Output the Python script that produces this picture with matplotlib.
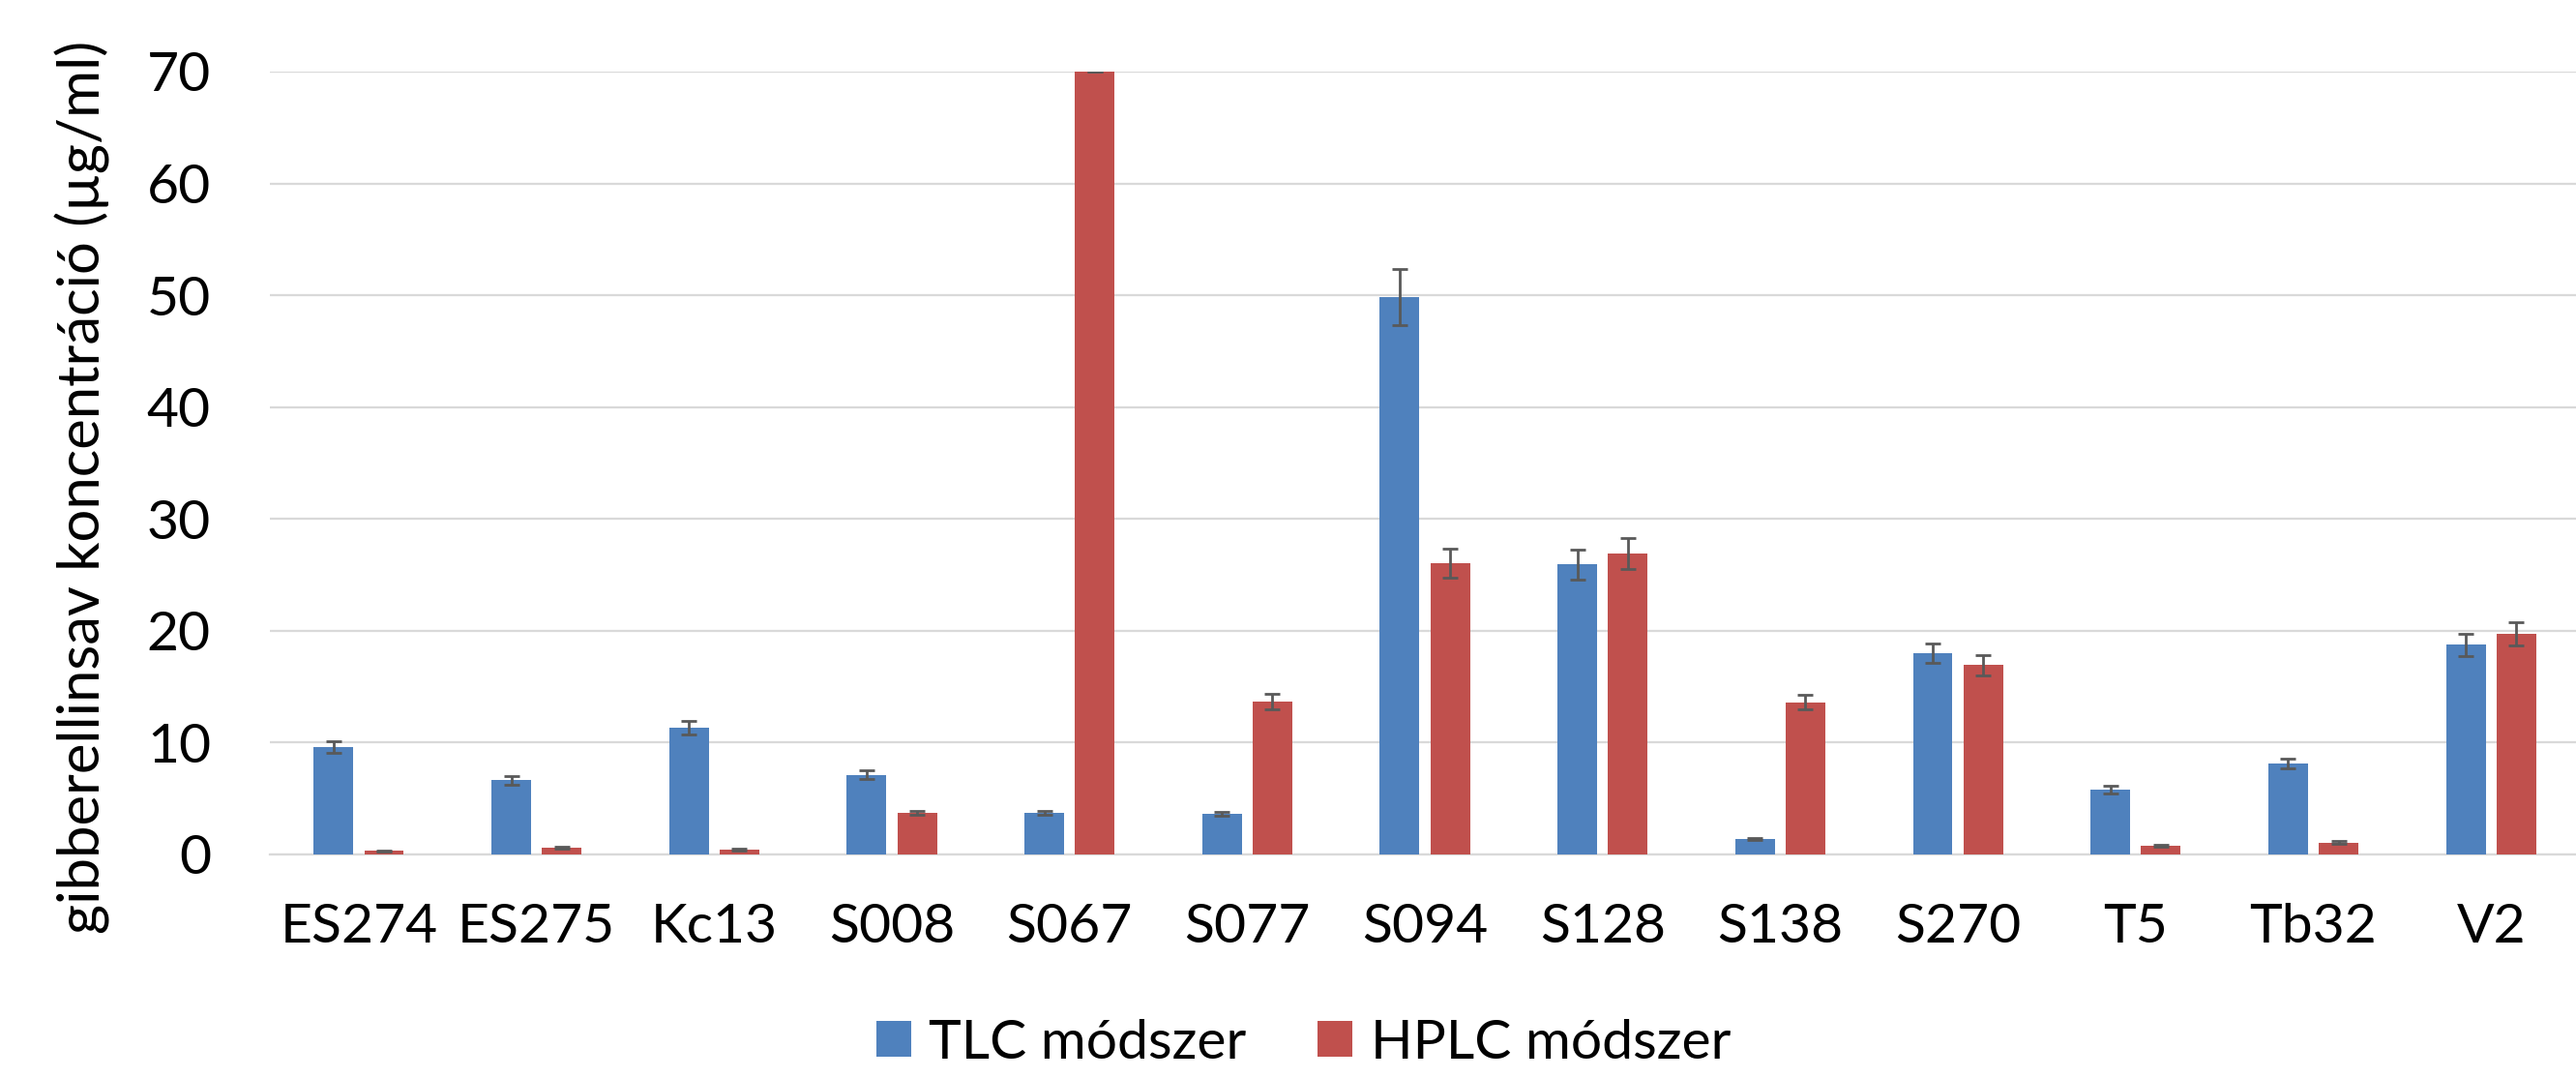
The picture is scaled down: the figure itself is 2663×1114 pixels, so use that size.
import numpy as np
from matplotlib import pyplot as plt

strains = ['ES274', 'ES275', 'Kc13', 'S008', 'S067', 'S077', 'S094',
           'S128', 'S138', 'S270', 'T5', 'Tb32', 'V2']
tlc = [9.6, 6.6, 11.3, 7.1, 3.7, 3.6, 49.8, 25.9, 1.35, 18.0, 5.75, 8.1, 18.75]
tlc_err = [0.5, 0.4, 0.6, 0.4, 0.2, 0.2, 2.5, 1.3, 0.07, 0.85, 0.35, 0.45, 1.0]
hplc = [0.3, 0.6, 0.4, 3.7, 70.0, 13.65, 26.0, 26.9, 13.6, 16.9, 0.75, 1.05, 19.7]
hplc_err = [0.05, 0.08, 0.06, 0.2, 0.0, 0.7, 1.3, 1.4, 0.65, 0.9, 0.08, 0.1, 1.05]

blue = '#4F81BD'
red = '#C0504D'
fs = 41
plt.rcParams['font.family'] = ['Lato', 'DejaVu Sans']

fig = plt.figure(figsize=(26.63, 11.14), dpi=100)
# plot area runs a few pixels past the right edge, as in the original
ax = fig.add_axes([0.1048, 0.2076, 0.8967, 0.726])

x = np.arange(len(strains))
w = 0.223
off = 0.142
ekw = dict(ecolor='#595959', elinewidth=2.0, capsize=6, capthick=2.0)
ax.bar(x - off, tlc, w, color=blue, yerr=tlc_err, error_kw=ekw,
       label='TLC módszer', zorder=3)
ax.bar(x + off, hplc, w, color=red, yerr=hplc_err, error_kw=ekw,
       label='HPLC módszer', zorder=3)

ax.set_ylim(0, 70)
ax.set_xlim(-0.5, len(strains) - 0.5)
ax.set_yticks(range(0, 71, 10))
ax.set_xticks(x)
ax.set_xticklabels(strains)
ax.tick_params(axis='both', length=0, labelsize=fs)
ax.tick_params(axis='x', pad=36)
ax.tick_params(axis='y', pad=44)
ax.yaxis.grid(True, color='#D9D9D9', linewidth=1.6, zorder=0)
for s in ['top', 'right', 'left']:
    ax.spines[s].set_visible(False)
ax.spines['bottom'].set_color('#D9D9D9')
ax.spines['bottom'].set_linewidth(1.6)

fig.text(0.032, 0.548, 'gibberellinsav koncentráció (µg/ml)', rotation=90,
         ha='center', va='center', fontsize=43)

fig.legend(loc='center', bbox_to_anchor=(0.506, 0.032), ncol=2, frameon=False,
           fontsize=fs, handlelength=0.63, handleheight=0.63, columnspacing=1.3,
           handletextpad=0.32, borderaxespad=0)

plt.savefig('out.png')
